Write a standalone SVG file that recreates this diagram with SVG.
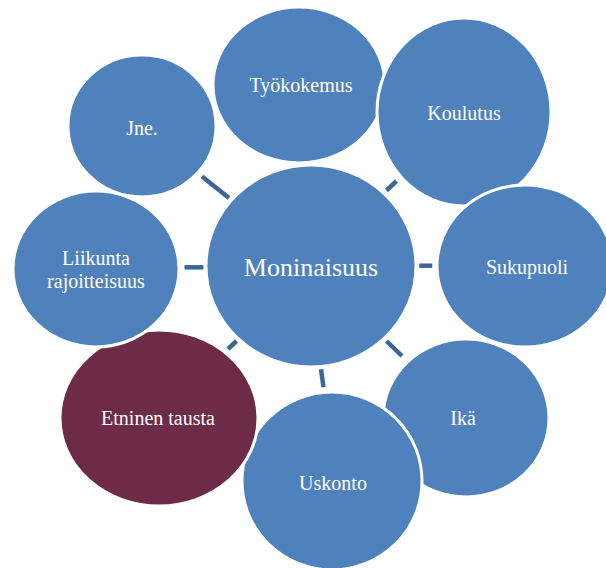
<svg xmlns="http://www.w3.org/2000/svg" width="606" height="568" viewBox="0 0 606 568">
<style>
.n{fill:#4F81BD;stroke:#FFFFFF;stroke-width:3}
.m{fill:#6E2B47;stroke:#FFFFFF;stroke-width:3}
.t{font-family:"Liberation Serif","Times New Roman",serif;font-size:20px;fill:#FFFFFF;text-anchor:middle;dominant-baseline:central}
.c{stroke:#3A6698;stroke-width:4.5;fill:none}
</style>
<rect width="606" height="568" fill="#FFFFFF"/>
<g id="connectors">
<line class="c" x1="202" y1="176.5" x2="229" y2="198"/>
<line class="c" x1="386.5" y1="190.5" x2="396.5" y2="181"/>
<line class="c" x1="184.5" y1="267.3" x2="203.5" y2="267.3"/>
<line class="c" x1="419.3" y1="265.7" x2="432.3" y2="265.7"/>
<line class="c" x1="386.5" y1="341" x2="402" y2="356"/>
<line class="c" x1="321" y1="369.3" x2="323.5" y2="387.3"/>
<line class="c" x1="228" y1="349" x2="236.5" y2="341"/>
</g>
<g id="node-tyokokemus">
<ellipse class="n" cx="299" cy="85" rx="86" ry="78"/>
<text class="t" x="301" y="85">Työkokemus</text>
</g>
<g id="node-koulutus">
<ellipse class="n" cx="464" cy="112" rx="87" ry="94"/>
<text class="t" x="464" y="113">Koulutus</text>
</g>
<g id="node-sukupuoli">
<ellipse class="n" cx="525" cy="266" rx="88" ry="81"/>
<text class="t" x="527" y="267">Sukupuoli</text>
</g>
<g id="node-ika">
<ellipse class="n" cx="466" cy="418" rx="83" ry="79"/>
<text class="t" x="463" y="418">Ikä</text>
</g>
<g id="node-uskonto">
<ellipse class="n" cx="332" cy="481" rx="90" ry="89"/>
<text class="t" x="333" y="483">Uskonto</text>
</g>
<g id="node-etninen">
<ellipse class="m" cx="159" cy="418" rx="99" ry="88"/>
<text class="t" x="158" y="418">Etninen tausta</text>
</g>
<g id="node-liikunta">
<ellipse class="n" cx="96" cy="269" rx="83" ry="78"/>
<text class="t" x="96" y="258">Liikunta</text>
<text class="t" x="96" y="281">rajoitteisuus</text>
</g>
<g id="node-jne">
<ellipse class="n" cx="142" cy="126" rx="74" ry="71"/>
<text class="t" x="142" y="128">Jne.</text>
</g>
<g id="node-moninaisuus">
<ellipse class="n" cx="311" cy="266" rx="105" ry="101"/>
<text class="t" x="311" y="267" style="font-size:26px">Moninaisuus</text>
</g>
</svg>
